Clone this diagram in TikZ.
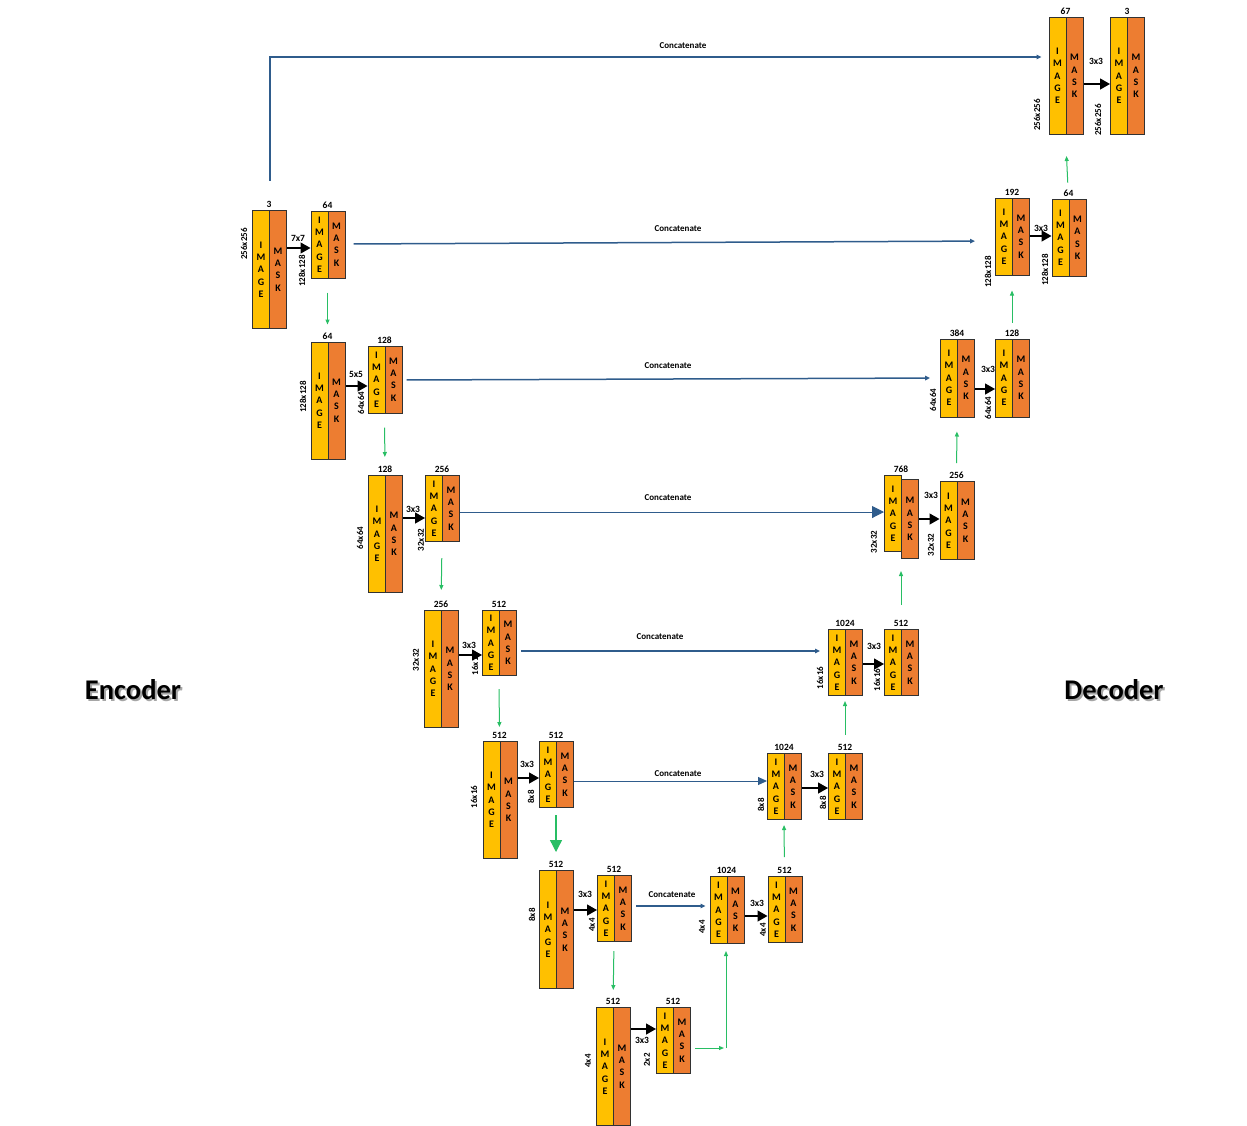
\documentclass[tikz,border=0pt]{standalone}
\usepackage{fontspec}
\setmainfont{Carlito}
\usetikzlibrary{arrows.meta}
\definecolor{imgc}{RGB}{255,192,0}
\definecolor{mskc}{RGB}{237,125,49}
\definecolor{catc}{RGB}{47,92,140}
\definecolor{grnc}{RGB}{40,190,100}
\definecolor{edgec}{RGB}{50,50,50}
\tikzset{
  img/.style={draw=edgec, line width=1pt, fill=imgc, minimum width=17pt, inner sep=0pt, anchor=north west, align=center, font=\fontsize{10}{12.3}\selectfont\bfseries},
  msk/.style={img, fill=mskc},
  toplab/.style={anchor=south, inner sep=1pt, font=\fontsize{9.5}{10}\selectfont\bfseries},
  sizelab/.style={rotate=90, inner sep=0pt, font=\fontsize{9}{10}\selectfont\bfseries},
  cvlab/.style={inner sep=0pt, font=\fontsize{9.5}{10}\selectfont\bfseries},
  catlab/.style={inner sep=0pt, font=\fontsize{9}{10}\selectfont\bfseries},
  conv/.style={draw=black, line width=1.3pt, -{Triangle[length=10pt,width=11pt]}},
  concat/.style={draw=catc, line width=1.5pt, -{Triangle[length=5pt,width=4.5pt]}},
  concatbig/.style={draw=catc, line width=1pt, -{Triangle[length=12pt,width=12pt]}},
  concatmid/.style={draw=catc, line width=1pt, -{Triangle[length=9pt,width=8pt]}},
  up/.style={draw=grnc, line width=1pt, -{Triangle[length=5pt,width=4pt]}},
  upbig/.style={draw=grnc, line width=1.3pt, -{Triangle[length=12pt,width=12pt]}},
  bigtxt/.style={inner sep=0pt, font=\fontsize{28.5}{32}\selectfont\bfseries}
}
% name, x, ytop, h, toplabel, sizelabel, sx, sy
\newcommand\ublk[8]{%
  \node[img, minimum height=#4pt] (#1i) at (#2,#3) {I\\M\\A\\G\\E};
  \node[msk, minimum height=#4pt] (#1m) at (#2+17,#3) {M\\A\\S\\K};
  \node[toplab] (#1t) at (#2+17,#3-1) {#5};
  \node[sizelab] (#1s) at (#7,#8) {#6};
}
\begin{document}
\begin{tikzpicture}[x=1pt,y=-1pt]
\useasboundingbox (0,0) rectangle (1247,1125);
% Encoder
\ublk{A}{252}{210}{118}{3}{256x256}{244}{244}
\ublk{B}{310.5}{210.5}{67}{64}{128x128}{302}{271}
\ublk{C}{310.5}{341.5}{117}{64}{128x128}{303}{397}
\ublk{D}{367.5}{345.5}{67}{128}{64x64}{361}{403}
\ublk{E}{368}{475}{117}{128}{64x64}{360}{538}
\ublk{F}{425}{475}{66}{256}{32x32}{421}{540}
\ublk{G}{424}{610}{117}{256}{32x32}{416}{660}
\ublk{H}{482}{610}{65}{512}{16x16}{475}{664}
\ublk{I}{482.5}{741}{117}{512}{16x16}{474}{797}
\ublk{J}{539}{741}{66}{512}{8x8}{531}{797}
\ublk{K}{539}{870}{118}{512}{8x8}{532}{915}
\ublk{L}{597}{875}{66}{512}{4x4}{592}{925}
\ublk{M}{596}{1007}{118}{512}{4x4}{588}{1061}
\ublk{N}{656}{1007}{66}{512}{2x2}{647}{1060}
% Decoder
\ublk{O}{709.5}{876}{67}{1024}{4x4}{702}{927}
\ublk{P}{767.5}{876}{66}{512}{4x4}{763}{930}
\ublk{Q}{767}{753}{66}{1024}{8x8}{761}{805}
\ublk{R}{828}{753}{66}{512}{8x8}{823}{803}
\ublk{S}{828}{629}{66}{1024}{16x16}{820}{678}
\ublk{T}{884}{629}{66}{512}{16x16}{877}{680}
\node[img, minimum height=76pt] (Ui) at (884,475) {I\\M\\A\\G\\E};
\node[msk, minimum height=79pt] (Um) at (901,479) {M\\A\\S\\K};
\node[toplab] (Ut) at (901,474) {768};
\node[sizelab] (Us) at (874,542) {32x32};
\ublk{V}{939.5}{481}{78}{256}{32x32}{931}{545}
\ublk{W}{940}{338.5}{78}{384}{64x64}{933}{400}
\ublk{X}{995}{338.5}{78}{128}{64x64}{988}{408}
\ublk{Y}{995}{197.5}{77}{192}{128x128}{988}{272}
\ublk{Z}{1051.5}{198.5}{77.5}{64}{128x128}{1045}{270}
\ublk{AA}{1048.5}{17}{117}{67}{256x256}{1037}{115}
\ublk{AB}{1110}{17}{117}{3}{256x256}{1098}{120}
% conv arrows
\draw[conv] (Am.east |- 0,248) -- (Bi.west |- 0,248);
\draw[conv] (Cm.east |- 0,386) -- (Di.west |- 0,386);
\draw[conv] (Em.east |- 0,518) -- (Fi.west |- 0,518);
\draw[conv] (Gm.east |- 0,655) -- (Hi.west |- 0,655);
\draw[conv] (Im.east |- 0,778) -- (Ji.west |- 0,778);
\draw[conv] (Km.east |- 0,910) -- (Li.west |- 0,910);
\draw[conv] (Mm.east |- 0,1029) -- (Ni.west |- 0,1029);
\draw[conv] (Om.east |- 0,916) -- (Pi.west |- 0,916);
\draw[conv] (Qm.east |- 0,788) -- (Ri.west |- 0,788);
\draw[conv] (Sm.east |- 0,664) -- (Ti.west |- 0,664);
\draw[conv] (Um.east |- 0,519) -- (Vi.west |- 0,519);
\draw[conv] (Wm.east |- 0,389) -- (Xi.west |- 0,389);
\draw[conv] (Ym.east |- 0,236) -- (Zi.west |- 0,236);
\draw[conv] (AAm.east |- 0,84) -- (ABi.west |- 0,84);
\node[cvlab] (k1) at (298,238) {7x7};
\node[cvlab] (k2) at (356,374) {5x5};
\node[cvlab] (k3) at (413,509) {3x3};
\node[cvlab] (k4) at (469,645) {3x3};
\node[cvlab] (k5) at (527,764) {3x3};
\node[cvlab] (k6) at (585,894) {3x3};
\node[cvlab] (k7) at (642,1040) {3x3};
\node[cvlab] (k8) at (757,903) {3x3};
\node[cvlab] (k9) at (817,774) {3x3};
\node[cvlab] (k10) at (874,646) {3x3};
\node[cvlab] (k11) at (931,495) {3x3};
\node[cvlab] (k12) at (988,369) {3x3};
\node[cvlab] (k13) at (1041,228) {3x3};
\node[cvlab] (k14) at (1096,61) {3x3};
% concatenations
\coordinate (topL) at (269,57);
\draw[concat, line cap=rect] (Ai.north east |- 0,180) -- (Ai.north east |- topL) -- ([xshift=-7pt]AAi.west |- topL);
\node[catlab] (c0) at (683,46) {Concatenate};
\draw[concat, shorten <=8pt, shorten >=20pt] (Bm.east |- 0,244) -- (Yi.west |- 0,241);
\node[catlab] (c1) at (678,229) {Concatenate};
\draw[concat, shorten <=4pt, shorten >=10pt] (Dm.east |- 0,380) -- (Wi.west |- 0,378);
\node[catlab] (c2) at (668,366) {Concatenate};
\draw[concatbig] (Fm.east |- 0,512) -- (Ui.west |- 0,512);
\node[catlab] (c3) at (668,498) {Concatenate};
\draw[concat, shorten <=4pt, shorten >=8pt] (Hm.east |- 0,651) -- (Si.west |- 0,651);
\node[catlab] (c4) at (660,637) {Concatenate};
\draw[concatmid] (Jm.east |- 0,781) -- (Qi.west |- 0,781);
\node[catlab] (c5) at (678,774) {Concatenate};
\draw[concat, shorten <=4pt, shorten >=4pt] (Lm.east |- 0,906) -- (Oi.west |- 0,906);
\node[catlab] (c6) at (672,895) {Concatenate};
% green arrows
\draw[up, shorten <=14pt, shorten >=17pt] (Bm.north west |- Bi.south) -- (Cm.north west |- Ci.north);
\draw[up, shorten <=14pt, shorten >=18pt] (Dm.north west |- Di.south) -- (Em.north west |- Ei.north);
\draw[up, shorten <=16pt, shorten >=20pt] (Fm.north west |- Fi.south) -- (Gm.north west |- Gi.north);
\draw[up, shorten <=13pt, shorten >=14pt] (Hm.north west |- Hi.south) -- (Im.north west |- Ii.north);
\draw[upbig, shorten <=7pt, shorten >=18pt] (Jm.north west |- Ji.south) -- (Km.north west |- Ki.north);
\draw[up, shorten <=9pt, shorten >=17pt] (Lm.north west |- Li.south) -- (Mm.north west |- Mi.north);
\coordinate (nn) at (726,1048);
\draw[up] ([xshift=4pt]Nm.east |- nn) -- ([xshift=-2pt]nn);
\draw[up, shorten >=7pt] (nn) -- (nn |- Oi.south);
\draw[up, shorten <=19pt, shorten >=5pt] (Pm.north west |- Pi.north) -- (Qm.north west |- Qi.south);
\draw[up, shorten <=18pt, shorten >=5pt] (Rm.north west |- Ri.north) -- (Sm.north west |- Si.south);
\draw[up, shorten <=24pt, shorten >=19pt] (Tm.north west |- Ti.north) -- (Um.north west |- Ui.south);
\draw[up, shorten <=18pt, shorten >=14pt] (Vm.north west |- Vi.north) -- (Wm.north west |- Wi.south);
\draw[up, shorten <=16pt, shorten >=15pt] (Xm.north west |- Xi.north) -- (Ym.north west |- Yi.south);
\draw[up, shorten <=16pt, shorten >=21pt] (Zm.north west |- Zi.north) -- (AAm.north west |- AAi.south);
% side titles
\node[bigtxt, text=black!35] (encs) at (135,692) {Encoder};
\node[bigtxt] (enc) at (133,690) {Encoder};
\node[bigtxt, text=black!35] (decs) at (1116,692) {Decoder};
\node[bigtxt] (dec) at (1114,690) {Decoder};
\end{tikzpicture}
\end{document}
